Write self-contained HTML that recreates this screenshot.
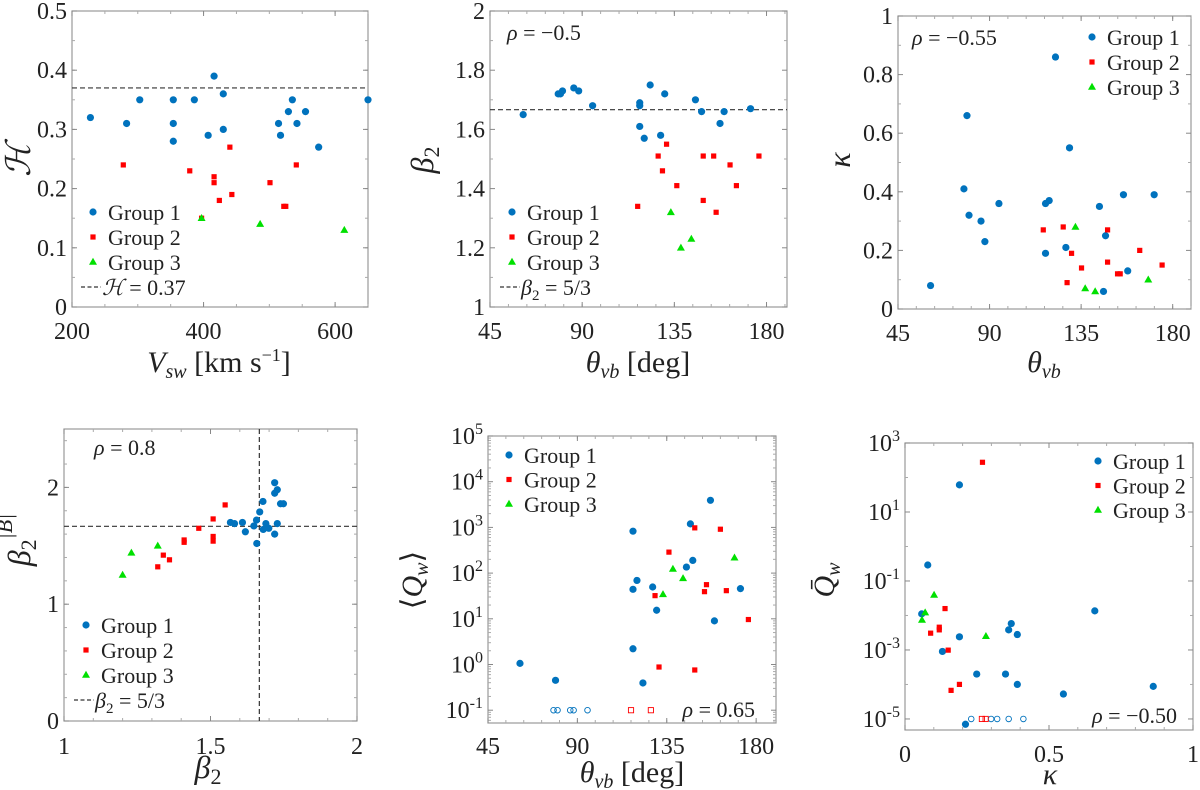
<!DOCTYPE html>
<html><head><meta charset="utf-8"><style>
html,body{margin:0;padding:0;background:#fff;font-family:"Liberation Serif","Times New Roman",Times,serif;}
svg{display:block;font-family:"Liberation Serif","Times New Roman",Times,serif;}
</style></head><body>
<svg id="fig" width="1200" height="790" viewBox="0 0 1200 790" font-family="Liberation Serif, Times New Roman, Times, serif"></svg>
<script>
// ---- Panel 1 data: H vs Vsw ----
const p1G1x=[228,283,303,354,354,354,386,416,407,430,430,514,517,529,535,542,555,575,650];
const p1G1y=[0.32,0.31,0.35,0.35,0.31,0.28,0.35,0.39,0.29,0.36,0.30,0.31,0.29,0.33,0.35,0.31,0.33,0.27,0.35];
const p1G2x=[278,379,416,416,424,440,443,501,522,525,541,397];
const p1G2y=[0.24,0.23,0.22,0.21,0.18,0.27,0.19,0.21,0.17,0.17,0.24,0.15];
const p1G3x=[397,486,614];
const p1G3y=[0.15,0.14,0.13];
const p1XTicks=[200,400,600];
const p1YTicks=[0,0.1,0.2,0.3,0.4,0.5];
// ---- Panel 2 data: beta2 vs theta ----
const p2G1x=[61.2,78.3,79.4,80.4,85.9,88.3,95.1,118.1,118.1,118.1,120.3,123.2,128.3,130.3,145.3,148.3,157.3,159.3,172.2];
const p2G1y=[1.65,1.72,1.72,1.73,1.74,1.73,1.68,1.69,1.68,1.61,1.57,1.75,1.58,1.72,1.70,1.66,1.62,1.66,1.67];
const p2G2x=[117.1,127.1,129.2,131.2,136.2,149.1,149.1,154.2,155.4,162.2,165.3,176.3];
const p2G2y=[1.34,1.51,1.46,1.55,1.41,1.51,1.36,1.51,1.32,1.48,1.41,1.51];
const p2G3x=[133.3,138.2,143.3];
const p2G3y=[1.32,1.20,1.23];
const thetaTicks=[45,90,135,180];
const p2YTicks=[1,1.2,1.4,1.6,1.8,2];
// ---- Panel 3 data: kappa vs theta ----
const p3G1x=[61.0,77.4,78.9,79.9,85.8,87.7,94.6,117.5,119.3,117.5,122.4,127.5,129.3,144.0,147.0,146.0,155.8,157.9,170.9];
const p3G1y=[0.08,0.41,0.66,0.32,0.30,0.23,0.36,0.36,0.37,0.19,0.86,0.21,0.55,0.35,0.25,0.06,0.39,0.13,0.39];
const p3G2x=[116.4,126.2,128.1,130.3,135.2,148.0,148.0,152.9,154.2,163.8,174.8];
const p3G2y=[0.27,0.28,0.09,0.19,0.14,0.27,0.16,0.12,0.12,0.20,0.15];
const p3G3x=[132.2,137.0,141.9,168.0];
const p3G3y=[0.28,0.07,0.06,0.10];
const p3YTicks=[0,0.2,0.4,0.6,0.8,1];
// ---- Panel 4 data: beta2|B| vs beta2 ----
const p4G1x=[1.568,1.582,1.609,1.619,1.648,1.657,1.658,1.668,1.679,1.680,1.689,1.699,1.719,1.719,1.728,1.728,1.719,1.739,1.749];
const p4G1y=[1.70,1.69,1.70,1.62,1.67,1.72,1.52,1.79,1.88,1.64,1.69,1.65,2.04,1.95,1.98,1.69,1.60,1.86,1.86];
const p4G2x=[1.320,1.339,1.360,1.410,1.410,1.460,1.509,1.509,1.509,1.550];
const p4G2y=[1.32,1.42,1.38,1.55,1.53,1.65,1.73,1.58,1.54,1.85];
const p4G3x=[1.200,1.230,1.320];
const p4G3y=[1.25,1.44,1.50];
const p4XTicks=[1,1.5,2];
const p4YTicks=[0,1,2];
// ---- Panel 5 data: <Qw> vs theta (log10 values) ----
const p5G1x=[61.1,79.0,118.0,120.0,118.0,118.0,123.0,127.9,129.9,144.9,146.9,148.1,157.0,159.0,172.1];
const p5G1y=[0.025,-0.346,2.917,1.84,1.645,0.344,-0.404,1.696,1.187,2.132,3.077,2.278,3.593,0.955,1.66];
const p5G2x=[129.1,131.1,136.1,149.1,149.1,154.0,155.0,162.0,165.0,176.1];
const p5G2y=[1.507,-0.055,2.459,2.99,-0.12,1.594,1.747,2.96,1.616,0.984];
const p5G3x=[133.1,138.1,143.2,169.1];
const p5G3y=[1.536,2.09,1.885,2.336];
const p5OpenG1x=[78.0,80.0,86.4,88.1,95.1];
const p5OpenG2x=[117.0,127.0];
const p5OpenLevel=-1;
const p5YExp=[-1,0,1,2,3,4,5];
// ---- Panel 6 data: Qbar vs kappa (log10 values) ----
const p6G1x=[0.058,0.079,0.189,0.189,0.130,0.249,0.349,0.360,0.369,0.390,0.390,0.550,0.659,0.862,0.210];
const p6G1y=[-1.954,-0.537,1.786,-2.619,-3.043,-3.699,-3.699,-2.417,-2.234,-2.552,-3.998,-4.277,-1.867,-4.055,-5.154];
const p6G2x=[0.269,0.139,0.119,0.119,0.089,0.150,0.189,0.160];
const p6G2y=[2.441,-1.80,-2.34,-2.417,-2.513,-3.005,-3.998,-4.171];
const p6G3x=[0.101,0.070,0.059,0.281];
const p6G3y=[-1.405,-1.916,-2.128,-2.60];
const p6OpenG1x=[0.230,0.299,0.320,0.360,0.411];
const p6OpenG2x=[0.267,0.280];
const p6OpenLevel=-5;
const p6YExp=[-5,-3,-1,1,3];
const p6XTicks=[0,0.5,1];

const NS='http://www.w3.org/2000/svg';
const svg=document.getElementById('fig');
const BLUE='#0072BD',RED='#FF0000',GREEN='#00E000';
function mk(tag,attrs,parent,name){
  const el=document.createElementNS(NS,tag);
  for(const k in attrs) el.setAttribute(k,attrs[k]);
  
  
  (parent||svg).appendChild(el);
  return el;
}
function txt(s,x,y,size,anchor,parent,name,extra){
  const t=mk('text',Object.assign({x:x,y:y,'font-size':size,'text-anchor':anchor||'middle',fill:'#222'},extra||{}),parent,name);
  t.style.fontFamily='"Liberation Serif", "Times New Roman", Times, serif';
  t.innerHTML=s; return t;
}
function panel(cfg){
  const g=mk('g',{},svg,cfg.name);
  const sx=v=>cfg.L+(v-cfg.x0)/(cfg.x1-cfg.x0)*(cfg.R-cfg.L);
  const sy=v=>cfg.B-(v-cfg.y0)/(cfg.y1-cfg.y0)*(cfg.B-cfg.T);
  mk('rect',{x:cfg.L,y:cfg.T,width:cfg.R-cfg.L,height:cfg.B-cfg.T,fill:'none',stroke:'#999','stroke-width':1.2},g,'plot-frame');
  (cfg.xMinor||[]).forEach(v=>{const x=sx(v);
    mk('line',{x1:x,x2:x,y1:cfg.B,y2:cfg.B-3,stroke:'#aaa'},g,'x-minor-tick');
    mk('line',{x1:x,x2:x,y1:cfg.T,y2:cfg.T+3,stroke:'#aaa'},g,'x-minor-tick');});
  (cfg.yMinor||[]).forEach(v=>{const y=sy(v);
    mk('line',{x1:cfg.L,x2:cfg.L+3,y1:y,y2:y,stroke:'#aaa'},g,'y-minor-tick');
    mk('line',{x1:cfg.R,x2:cfg.R-3,y1:y,y2:y,stroke:'#aaa'},g,'y-minor-tick');});
  cfg.xTicks.forEach((v,i)=>{const x=sx(v);
    mk('line',{x1:x,x2:x,y1:cfg.B,y2:cfg.B-5,stroke:'#888'},g,'x-tick');
    mk('line',{x1:x,x2:x,y1:cfg.T,y2:cfg.T+5,stroke:'#888'},g,'x-tick');
    txt(cfg.xLabels[i],x,cfg.xLabY,24,'middle',g,'x-tick-label');});
  cfg.yTicks.forEach((v,i)=>{const y=sy(v);
    mk('line',{x1:cfg.L,x2:cfg.L+5,y1:y,y2:y,stroke:'#888'},g,'y-tick');
    mk('line',{x1:cfg.R,x2:cfg.R-5,y1:y,y2:y,stroke:'#888'},g,'y-tick');
    txt(cfg.yLabels[i],cfg.L-5,y+8,24,'end',g,'y-tick-label');});
  (cfg.hlines||[]).forEach(v=>mk('line',{x1:cfg.L,x2:cfg.R,y1:sy(v),y2:sy(v),stroke:'#333','stroke-dasharray':'5,3','stroke-width':1.2},g,'reference-hline'));
  (cfg.vlines||[]).forEach(v=>mk('line',{x1:sx(v),x2:sx(v),y1:cfg.T,y2:cfg.B,stroke:'#333','stroke-dasharray':'5,3','stroke-width':1.2},g,'reference-vline'));
  const series=[[cfg.g1x,cfg.g1y,'g1'],[cfg.g2x,cfg.g2y,'g2'],[cfg.g3x,cfg.g3y,'g3']];
  series.forEach(([xs,ys,k])=>xs.forEach((xv,i)=>marker(k,sx(xv),sy(ys[i]),g,false)));
  (cfg.openG1||[]).forEach(xv=>marker('g1',sx(xv),sy(cfg.openLevel),g,true));
  (cfg.openG2||[]).forEach(xv=>marker('g2',sx(xv),sy(cfg.openLevel),g,true));
  return g;
}
function marker(k,x,y,g,open){
  if(k==='g1') mk('circle',{cx:x,cy:y,r:open?2.8:3.6,fill:open?'none':BLUE,stroke:BLUE,'stroke-width':open?0.9:0},g,open?'group1-open-point':'group1-point');
  else if(k==='g2') mk('rect',{x:x-2.6,y:y-2.6,width:5.2,height:5.2,fill:open?'none':RED,stroke:RED,'stroke-width':open?0.9:0},g,open?'group2-open-point':'group2-point');
  else mk('polygon',{points:`${x},${y-4.2} ${x-4},${y+2.8} ${x+4},${y+2.8}`,fill:GREEN},g,'group3-point');
}
function legend(x,y,dy,dashLabel){
  const g=mk('g',{},svg,'legend');
  marker('g1',x,y,g,false); txt('Group 1',x+15,y+8,22,'start',g,'legend-entry-group1');
  marker('g2',x,y+dy,g,false); txt('Group 2',x+15,y+dy+8,22,'start',g,'legend-entry-group2');
  marker('g3',x,y+2*dy,g,false); txt('Group 3',x+15,y+2*dy+8,22,'start',g,'legend-entry-group3');
  if(dashLabel){
    mk('line',{x1:x-12,x2:x+8,y1:y+3*dy,y2:y+3*dy,stroke:'#333','stroke-dasharray':'4,2.5','stroke-width':1.2},g,'legend-dash');
    txt(dashLabel,x+9,y+3*dy+8,22,'start',g,'legend-entry-reference');
  }
}
const rng=(a,b,s)=>{const r=[];for(let v=a;v<=b+1e-9;v+=s)r.push(+v.toFixed(6));return r;};
const fmt=v=>String(v);
const pow=e=>`10<tspan dy="-10" font-size="16">${e}</tspan>`;
const logMinor=(a,b)=>{const r=[];for(let e=Math.floor(a);e<b;e++)for(let m=2;m<10;m++){const v=e+Math.log10(m);if(v>a&&v<b)r.push(v);}return r;};

// Panel 1
panel({name:'panel-h-vs-vsw',L:72,R:368,T:11,B:307,x0:200,x1:650,y0:0,y1:0.5,
  xTicks:p1XTicks,xLabels:p1XTicks.map(fmt),xLabY:339,yTicks:p1YTicks,yLabels:p1YTicks.map(fmt),
  xMinor:rng(250,650,50),yMinor:rng(0.05,0.45,0.05),hlines:[0.37],
  g1x:p1G1x,g1y:p1G1y,g2x:p1G2x,g2y:p1G2y,g3x:p1G3x,g3y:p1G3y});
legend(93,212,25,'<tspan font-style="italic">ℋ</tspan> = 0.37');
txt('ℋ',22,168,34,'middle',svg,'y-axis-title',{transform:'rotate(-90 22 160)','font-style':'italic'});
txt('<tspan font-style="italic">V</tspan><tspan font-style="italic" font-size="20" dy="6">sw</tspan><tspan dy="-6"> [km s</tspan><tspan dy="-11" font-size="18">−1</tspan><tspan dy="11">]</tspan>',219,372,30,'middle',svg,'x-axis-title');

// Panel 2
panel({name:'panel-beta2-vs-theta',L:490,R:787,T:11,B:307,x0:45,x1:190,y0:1,y1:2,
  xTicks:thetaTicks,xLabels:thetaTicks.map(fmt),xLabY:339,yTicks:p2YTicks,yLabels:p2YTicks.map(fmt),
  xMinor:rng(54,189,9),yMinor:rng(1.1,1.9,0.2),hlines:[5/3],
  g1x:p2G1x,g1y:p2G1y,g2x:p2G2x,g2y:p2G2y,g3x:p2G3x,g3y:p2G3y});
legend(512,212,25,'<tspan font-style="italic">β</tspan><tspan font-size="15" dy="5">2</tspan><tspan dy="-5"> = 5/3</tspan>');
txt('<tspan font-style="italic">ρ</tspan> = −0.5',507,40,22,'start',svg,'correlation-label');
txt('<tspan font-style="italic">β</tspan><tspan font-size="22" dy="6">2</tspan>',433,160,32,'middle',svg,'y-axis-title',{transform:'rotate(-90 433 160)'});
txt('<tspan font-style="italic">θ</tspan><tspan font-style="italic" font-size="20" dy="6">vb</tspan><tspan dy="-6"> [deg]</tspan>',638,372,30,'middle',svg,'x-axis-title');

// Panel 3
panel({name:'panel-kappa-vs-theta',L:898,R:1191,T:16,B:309,x0:45,x1:189,y0:0,y1:1,
  xTicks:thetaTicks,xLabels:thetaTicks.map(fmt),xLabY:341,yTicks:p3YTicks,yLabels:p3YTicks.map(fmt),
  xMinor:rng(54,189,9),yMinor:rng(0.1,0.9,0.2),
  g1x:p3G1x,g1y:p3G1y,g2x:p3G2x,g2y:p3G2y,g3x:p3G3x,g3y:p3G3y});
legend(1092,37,25,null);
txt('<tspan font-style="italic">ρ</tspan> = −0.55',912,45,22,'start',svg,'correlation-label');
txt('κ',848,162,32,'middle',svg,'y-axis-title',{transform:'rotate(-90 848 160)','font-style':'italic'});
txt('<tspan font-style="italic">θ</tspan><tspan font-style="italic" font-size="20" dy="6">vb</tspan>',1044,372,30,'middle',svg,'x-axis-title');

// Panel 4
panel({name:'panel-beta2b-vs-beta2',L:64,R:357,T:429,B:721,x0:1,x1:2,y0:0,y1:2.5,
  xTicks:p4XTicks,xLabels:p4XTicks.map(fmt),xLabY:754,yTicks:p4YTicks,yLabels:p4YTicks.map(fmt),
  xMinor:rng(1.1,1.9,0.1),yMinor:rng(0.2,2.4,0.2),hlines:[5/3],vlines:[5/3],
  g1x:p4G1x,g1y:p4G1y,g2x:p4G2x,g2y:p4G2y,g3x:p4G3x,g3y:p4G3y});
legend(86,625,25,'<tspan font-style="italic">β</tspan><tspan font-size="15" dy="5">2</tspan><tspan dy="-5"> = 5/3</tspan>');
txt('<tspan font-style="italic">ρ</tspan> = 0.8',94,455,22,'start',svg,'correlation-label');
txt('<tspan font-style="italic">β</tspan><tspan font-size="22" dy="6">2</tspan><tspan font-style="italic" font-size="22" dy="-24">|B|</tspan>',30,540,32,'middle',svg,'y-axis-title',{transform:'rotate(-90 30 540)'});
txt('<tspan font-style="italic">β</tspan><tspan font-size="22" dy="6">2</tspan>',208,778,32,'middle',svg,'x-axis-title');

// Panel 5
panel({name:'panel-qw-vs-theta',L:488,R:776,T:436,B:723,x0:45,x1:190,y0:-1.28,y1:5,
  xTicks:thetaTicks,xLabels:thetaTicks.map(fmt),xLabY:754,yTicks:p5YExp,yLabels:p5YExp.map(pow),
  xMinor:rng(54,189,9),yMinor:logMinor(-1.28,5),
  g1x:p5G1x,g1y:p5G1y,g2x:p5G2x,g2y:p5G2y,g3x:p5G3x,g3y:p5G3y,
  openG1:p5OpenG1x,openG2:p5OpenG2x,openLevel:p5OpenLevel});
legend(509,455,24.5,null);
txt('<tspan font-style="italic">ρ</tspan> = 0.65',755,717,22,'end',svg,'correlation-label');
txt('⟨<tspan font-style="italic">Q</tspan><tspan font-style="italic" font-size="20" dy="6">w</tspan><tspan dy="-6">⟩</tspan>',422,580,30,'middle',svg,'y-axis-title',{transform:'rotate(-90 422 580)'});
txt('<tspan font-style="italic">θ</tspan><tspan font-style="italic" font-size="20" dy="6">vb</tspan><tspan dy="-6"> [deg]</tspan>',632,782,30,'middle',svg,'x-axis-title');

// Panel 6
panel({name:'panel-qbar-vs-kappa',L:905,R:1193,T:443,B:730,x0:0,x1:1,y0:-5.32,y1:3,
  xTicks:p6XTicks,xLabels:p6XTicks.map(fmt),xLabY:762,yTicks:p6YExp,yLabels:p6YExp.map(e=>pow(e<0?'-'+(-e):e)),
  xMinor:rng(0.1,0.9,0.1),yMinor:rng(-4,2,2),
  g1x:p6G1x,g1y:p6G1y,g2x:p6G2x,g2y:p6G2y,g3x:p6G3x,g3y:p6G3y,
  openG1:p6OpenG1x,openG2:p6OpenG2x,openLevel:p6OpenLevel});
legend(1098,461,24.5,null);
txt('<tspan font-style="italic">ρ</tspan> = −0.50',1177,723,22,'end',svg,'correlation-label');
txt('<tspan font-style="italic">Q̄</tspan><tspan font-style="italic" font-size="20" dy="6">w</tspan>',834,580,30,'middle',svg,'y-axis-title',{transform:'rotate(-90 834 580)'});
txt('κ',1050,784,30,'middle',svg,'x-axis-title',{'font-style':'italic'});
</script>
</body></html>
